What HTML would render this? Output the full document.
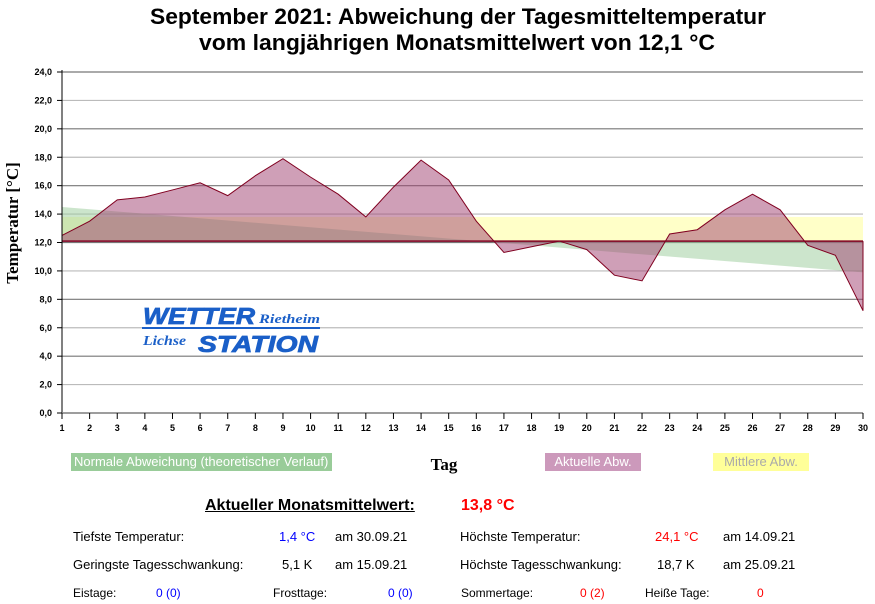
<!DOCTYPE html>
<html><head><meta charset="utf-8"><style>
body{margin:0;background:#fff;width:875px;height:604px;overflow:hidden;position:relative;font-family:"Liberation Sans",Arial,sans-serif}
.t{position:absolute;white-space:nowrap;font-size:13px;color:#000}
</style></head><body>
<svg width="875" height="604" style="position:absolute;left:0;top:0" id="s" xmlns="http://www.w3.org/2000/svg">
<text x="150" y="24" textLength="616" lengthAdjust="spacingAndGlyphs" font-family="Liberation Sans,Arial,sans-serif" font-weight="bold" font-size="22">September 2021: Abweichung der Tagesmitteltemperatur</text>
<text x="199" y="50" textLength="516" lengthAdjust="spacingAndGlyphs" font-family="Liberation Sans,Arial,sans-serif" font-weight="bold" font-size="22">vom langjährigen Monatsmittelwert von 12,1 °C</text>
<g id="g"></g>
<text transform="translate(18,223) rotate(-90)" text-anchor="middle" font-family="Liberation Serif,serif" font-weight="bold" font-size="17">Temperatur [°C]</text>
<text x="444" y="470" text-anchor="middle" font-family="Liberation Serif,serif" font-weight="bold" font-size="17">Tag</text>
<g font-family="Liberation Sans,Arial,sans-serif" font-style="italic" font-weight="bold" fill="#1a5fc8" stroke="#1a5fc8" stroke-width="0.8">
<text x="143" y="324" font-size="23" textLength="112" lengthAdjust="spacingAndGlyphs">WETTER</text>
<text x="259" y="323" font-family="Liberation Serif,serif" font-size="13" stroke-width="0" textLength="61" lengthAdjust="spacingAndGlyphs">Rietheim</text>
<rect x="142" y="327" width="178" height="2" stroke-width="0"/>
<text x="143" y="345" font-family="Liberation Serif,serif" font-size="14" stroke-width="0" textLength="43" lengthAdjust="spacingAndGlyphs">Lichse</text>
<text x="198" y="352" font-size="23" textLength="120" lengthAdjust="spacingAndGlyphs">STATION</text>
</g>
</svg>
<div class="t" style="left:71px;top:453px;width:261px;height:18px;background:#99cc99;color:#fff;line-height:18px;padding-left:3px;box-sizing:border-box">Normale Abweichung (theoretischer Verlauf)</div>
<div class="t" style="left:545px;top:453px;width:96px;height:18px;background:#cc99bb;color:#fff;line-height:18px;text-align:center">Aktuelle Abw.</div>
<div class="t" style="left:713px;top:453px;width:96px;height:18px;background:#ffff99;color:#aaa;line-height:18px;text-align:center">Mittlere Abw.</div>
<div class="t" style="left:205px;top:497px;font-size:16px;font-weight:bold;text-decoration:underline">Aktueller Monatsmittelwert:</div>
<div class="t" style="left:461px;top:497px;font-size:16px;font-weight:bold;color:#f00">13,8 °C</div>
<div class="t" style="left:73px;top:529px">Tiefste Temperatur:</div>
<div class="t" style="left:279px;top:529px;color:#00f">1,4 °C</div>
<div class="t" style="left:335px;top:529px">am 30.09.21</div>
<div class="t" style="left:460px;top:529px">Höchste Temperatur:</div>
<div class="t" style="left:655px;top:529px;color:#f00">24,1 °C</div>
<div class="t" style="left:723px;top:529px">am 14.09.21</div>
<div class="t" style="left:73px;top:557px">Geringste Tagesschwankung:</div>
<div class="t" style="left:282px;top:557px">5,1 K</div>
<div class="t" style="left:335px;top:557px">am 15.09.21</div>
<div class="t" style="left:460px;top:557px">Höchste Tagesschwankung:</div>
<div class="t" style="left:657px;top:557px">18,7 K</div>
<div class="t" style="left:723px;top:557px">am 25.09.21</div>
<div class="t" style="left:73px;top:586px;font-size:12px">Eistage:</div>
<div class="t" style="left:156px;top:586px;font-size:12px;color:#00f">0 (0)</div>
<div class="t" style="left:273px;top:586px;font-size:12px">Frosttage:</div>
<div class="t" style="left:388px;top:586px;font-size:12px;color:#00f">0 (0)</div>
<div class="t" style="left:461px;top:586px;font-size:12px">Sommertage:</div>
<div class="t" style="left:580px;top:586px;font-size:12px;color:#f00">0 (2)</div>
<div class="t" style="left:645px;top:586px;font-size:12px">Heiße Tage:</div>
<div class="t" style="left:757px;top:586px;font-size:12px;color:#f00">0</div>
<script>
var d=[12.5,13.5,15.0,15.2,15.7,16.2,15.3,16.7,17.9,16.6,15.4,13.8,15.9,17.8,16.4,13.5,11.3,11.7,12.1,11.5,9.7,9.3,12.6,12.9,14.3,15.4,14.3,11.8,11.1,7.2];
function X(i){return 62+i*801/29}function Y(v){return 413-v*341/24}
var h='';
for(var k=0;k<=12;k++){var y=Y(k*2);h+='<line x1="62" x2="863" y1="'+y+'" y2="'+y+'" stroke="'+(k%2?'#bbb':'#777')+'" stroke-width="1.2"/>';
h+='<line x1="57" x2="62" y1="'+y+'" y2="'+y+'" stroke="#000"/>';
h+='<text x="52" y="'+(y+3)+'" text-anchor="end" font-family="Liberation Sans,Arial,sans-serif" font-weight="bold" font-size="9" fill="#000">'+(k*2)+',0</text>';}
h+='<rect x="62" y="'+Y(13.8)+'" width="801" height="'+(Y(12.1)-Y(13.8))+'" fill="#ffffc8"/>';
var B=Y(12.1);
h+='<polygon points="62,'+B+' 62,'+Y(14.5)+' 863,'+Y(9.9)+' 863,'+B+'" fill="#99cc99" opacity="0.5"/>';
var p='62,'+B;for(var i=0;i<30;i++)p+=' '+X(i)+','+Y(d[i]);p+=' 863,'+B;
h+='<polygon points="'+p+'" fill="#a04070" opacity="0.5"/>';
var q='';for(var i=0;i<30;i++)q+=X(i)+','+Y(d[i])+' ';
h+='<polyline points="'+q+'" fill="none" stroke="#800020" stroke-width="1"/>';
h+='<line x1="62" x2="863" y1="'+B+'" y2="'+B+'" stroke="#800020" stroke-width="1.5"/><line x1="863" x2="863" y1="'+B+'" y2="'+Y(7.2)+'" stroke="#800020"/>';
h+='<line x1="62" x2="62" y1="70" y2="413" stroke="#000"/><line x1="62" x2="863" y1="413" y2="413" stroke="#888" stroke-width="1.5"/>';
for(var i=0;i<30;i++){h+='<line x1="'+X(i)+'" x2="'+X(i)+'" y1="413" y2="419" stroke="#000"/>';
h+='<text x="'+X(i)+'" y="431" text-anchor="middle" font-family="Liberation Sans,Arial,sans-serif" font-weight="bold" font-size="9">'+(i+1)+'</text>';}
document.getElementById('g').innerHTML=h;
</script>
</body></html>
